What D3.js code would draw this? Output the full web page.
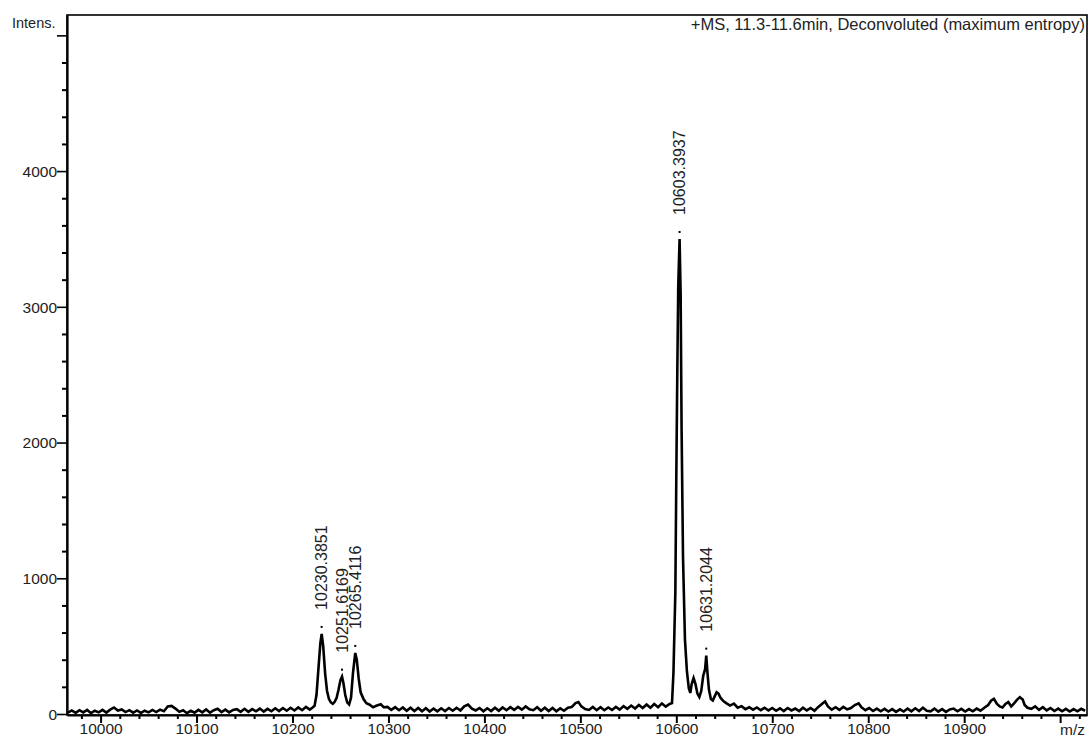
<!DOCTYPE html>
<html>
<head>
<meta charset="utf-8">
<script src="https://cdn.jsdelivr.net/npm/d3@7"></script>
<style>
  body { margin: 0; background: #fff; }
  svg { display: block; font-family: "Liberation Sans", Arial, sans-serif; }
</style>
</head>
<body>
<svg id="chart" width="1090" height="738"></svg>
<script>
// spectrum (m/z, intensity)
const mzValues = [
  9966, 9970, 9974, 9978, 9982, 9986, 9990, 9994, 9998, 10002, 10006, 10010, 10014, 10018, 10022, 10026,
  10030, 10034, 10038, 10042, 10046, 10050, 10054, 10058, 10062, 10066, 10070, 10074, 10078, 10082, 10086,
  10090, 10094, 10098, 10102, 10106, 10110, 10114, 10118, 10122, 10126, 10130, 10134, 10138, 10142, 10146,
  10150, 10154, 10158, 10162, 10166, 10170, 10174, 10178, 10182, 10186, 10190, 10194, 10198, 10202, 10206,
  10210, 10214, 10218, 10221, 10223, 10225, 10227, 10229, 10230.4, 10232, 10234, 10236, 10238, 10240, 10242,
  10244, 10246, 10248, 10250, 10251.6, 10253, 10255, 10257, 10259, 10261, 10263, 10265.4, 10267, 10269, 10271,
  10274, 10277, 10280, 10284, 10288, 10292, 10295, 10299, 10303, 10307, 10311, 10315, 10319, 10323, 10327,
  10331, 10335, 10339, 10343, 10347, 10351, 10355, 10359, 10363, 10367, 10371, 10375, 10379, 10383, 10387,
  10391, 10395, 10399, 10403, 10407, 10411, 10415, 10419, 10423, 10427, 10431, 10435, 10439, 10443, 10447,
  10451, 10455, 10459, 10463, 10467, 10471, 10475, 10479, 10483, 10487, 10491, 10495, 10498, 10501, 10505,
  10509, 10513, 10517, 10521, 10525, 10529, 10533, 10537, 10541, 10545, 10549, 10553, 10557, 10561, 10565,
  10569, 10573, 10577, 10581, 10585, 10589, 10593, 10595.5, 10597, 10599, 10600, 10601, 10602, 10603.4, 10604.5,
  10605.5, 10607, 10609, 10611, 10613, 10614.6, 10616, 10618, 10620, 10622, 10624, 10626, 10628, 10630, 10631.2,
  10632.5, 10634, 10636, 10638, 10640, 10642, 10644, 10646, 10649, 10652, 10656, 10660, 10664, 10668, 10672,
  10676, 10680, 10684, 10688, 10692, 10696, 10700, 10704, 10708, 10712, 10716, 10720, 10724, 10728, 10732,
  10736, 10740, 10744, 10748, 10752, 10755, 10758, 10762, 10766, 10770, 10774, 10778, 10782, 10786, 10790,
  10793, 10797, 10801, 10805, 10809, 10813, 10817, 10821, 10825, 10829, 10833, 10837, 10841, 10845, 10849,
  10853, 10857, 10861, 10865, 10869, 10873, 10877, 10881, 10885, 10889, 10893, 10897, 10901, 10905, 10909,
  10913, 10917, 10921, 10925, 10928, 10931, 10934, 10937, 10940, 10943, 10946, 10949, 10952, 10955, 10958,
  10961, 10963, 10966, 10970, 10974, 10978, 10982, 10986, 10990, 10994, 10998, 11002, 11006, 11010, 11014,
  11018, 11022, 11026
];
const intensValues = [
  10, 26, 8, 28, 12, 30, 6, 24, 12, 30, 10, 32, 48, 26, 34, 14,
  28, 10, 26, 8, 24, 12, 30, 14, 32, 20, 56, 60, 40, 16, 28,
  6, 24, 10, 30, 12, 34, 10, 28, 38, 14, 32, 12, 30, 36, 16,
  38, 16, 36, 20, 40, 18, 38, 20, 42, 22, 44, 24, 46, 26, 48,
  28, 52, 32, 48, 60, 140, 330, 520, 590, 500, 300, 170, 110, 85, 75,
  90, 120, 180, 250, 275, 230, 140, 85, 70, 120, 300, 450, 400, 260, 160,
  110, 80, 70, 50, 62, 72, 50, 52, 30, 50, 28, 48, 24, 46, 22,
  44, 20, 42, 18, 40, 20, 42, 22, 44, 24, 46, 26, 56, 70, 40,
  26, 44, 20, 42, 22, 46, 24, 48, 28, 50, 30, 52, 32, 56, 34,
  28, 50, 24, 46, 22, 44, 20, 42, 24, 46, 52, 80, 88, 56, 36,
  30, 52, 28, 50, 28, 48, 30, 52, 32, 58, 38, 62, 40, 66, 44,
  70, 46, 74, 50, 78, 54, 74, 80, 300, 900, 1750, 2500, 3150, 3500, 3100,
  2100, 1150, 550, 320, 190, 155, 220, 265, 220, 150, 125, 170, 280, 330, 430,
  300, 180, 110, 100, 130, 160, 150, 120, 95, 80, 62, 76, 46, 58, 36,
  50, 32, 48, 28, 46, 26, 44, 24, 42, 22, 44, 26, 40, 22, 46,
  26, 44, 24, 52, 76, 92, 56, 32, 50, 30, 52, 34, 44, 66, 78,
  50, 28, 44, 22, 40, 20, 38, 18, 36, 16, 34, 18, 40, 20, 42,
  22, 46, 24, 20, 40, 18, 36, 16, 34, 40, 20, 38, 18, 36, 20,
  40, 24, 46, 66, 98, 112, 76, 56, 48, 74, 88, 56, 78, 104, 124,
  106, 66, 46, 38, 56, 30, 50, 26, 44, 22, 40, 20, 38, 18, 36,
  20, 38, 24
];

// annotated peaks
const peakLabels = ["10230.3851", "10251.6169", "10265.4116", "10603.3937", "10631.2044"];
const peakMz = [10230.3851, 10251.6169, 10265.4116, 10603.3937, 10631.2044];
const peakIntens = [590, 275, 450, 3500, 430];

const xMajorTicks = [10000, 10100, 10200, 10300, 10400, 10500, 10600, 10700, 10800, 10900, 11000];
const xTickLabels = ["10000", "10100", "10200", "10300", "10400", "10500", "10600", "10700", "10800", "10900", ""];
const yMajorTicks = [0, 1000, 2000, 3000, 4000];

const titleText = "+MS, 11.3-11.6min, Deconvoluted (maximum entropy)";

const plotLeft = 67, plotRight = 1087, plotTop = 15, plotBottom = 715;
const tickFont = 15.5;
const peakFont = 16;

const svg = d3.select("#chart");

const x = d3.scaleLinear().domain([9965, 11028]).range([plotLeft, plotRight]);
const y = d3.scaleLinear().domain([0, 5150]).range([plotBottom - 1, plotTop]);

// frame
svg.append("rect")
  .attr("x", plotLeft).attr("y", plotTop)
  .attr("width", plotRight - plotLeft).attr("height", plotBottom - plotTop)
  .attr("fill", "none").attr("stroke", "#000").attr("stroke-width", 1.6);

// x minor ticks (every 20)
const xMinor = d3.range(9980, 11021, 20).filter((v) => v % 100 !== 0);
svg.append("g")
  .attr("transform", `translate(0,${plotBottom})`)
  .call(d3.axisBottom(x).tickValues(xMinor).tickSize(4).tickSizeOuter(0).tickFormat(""))
  .call((g) => g.select(".domain").remove())
  .call((g) => g.selectAll("line").attr("stroke-width", 2));

// x major ticks and labels
svg.append("g")
  .attr("transform", `translate(0,${plotBottom})`)
  .call(d3.axisBottom(x).tickValues(xMajorTicks).tickSize(8).tickSizeOuter(0)
    .tickFormat((d, i) => xTickLabels[i]))
  .call((g) => g.select(".domain").attr("stroke-width", 2.2))
  .call((g) => g.selectAll("line").attr("stroke-width", 2))
  .call((g) => g.selectAll("text")
    .attr("font-size", tickFont).attr("font-family", "Liberation Sans, Arial, sans-serif")
    .attr("fill", "#222").attr("dy", "0.7em").attr("y", 8));

// y minor ticks (every 200)
const yMinor = d3.range(200, 5100, 200).filter((v) => v % 1000 !== 0);
svg.append("g")
  .attr("transform", `translate(${plotLeft},0)`)
  .call(d3.axisLeft(y).tickValues(yMinor).tickSize(5).tickSizeOuter(0).tickFormat(""))
  .call((g) => g.select(".domain").remove())
  .call((g) => g.selectAll("line").attr("stroke-width", 2));

// y major ticks and labels
svg.append("g")
  .attr("transform", `translate(${plotLeft},0)`)
  .call(d3.axisLeft(y).tickValues(yMajorTicks.concat([5000])).tickSize(10).tickSizeOuter(0)
    .tickFormat((d) => (d === 5000 ? "" : d)))
  .call((g) => g.select(".domain").attr("stroke-width", 2.2))
  .call((g) => g.selectAll("line").attr("stroke-width", 1.6))
  .call((g) => g.selectAll("text")
    .attr("font-size", tickFont).attr("font-family", "Liberation Sans, Arial, sans-serif")
    .attr("fill", "#222").attr("x", -10).attr("dy", "0.35em"));

// spectrum trace
const points = mzValues.map((m, i) => ({ mz: m, v: intensValues[i] }));
const line = d3.line().x((d) => x(d.mz)).y((d) => y(d.v));
svg.append("path")
  .datum(points)
  .attr("d", line)
  .attr("fill", "none")
  .attr("stroke", "#000")
  .attr("stroke-width", 2.6)
  .attr("stroke-linejoin", "miter");

// peak markers and rotated labels
peakLabels.forEach((lab, i) => {
  const px = x(peakMz[i]);
  const py = y(peakIntens[i]);
  svg.append("rect")
    .attr("x", px - 1).attr("y", py - 8)
    .attr("width", 2).attr("height", 2)
    .attr("fill", "#000");
  svg.append("text")
    .attr("transform", `translate(${px + 5.5},${py - 24}) rotate(-90)`)
    .attr("font-size", peakFont)
    .attr("fill", "#222")
    .text(lab);
});

// corner texts
svg.append("text")
  .attr("x", 12).attr("y", 28)
  .attr("font-size", 14.5).attr("fill", "#222")
  .text("Intens.");

svg.append("text")
  .attr("x", plotRight - 2).attr("y", 30)
  .attr("text-anchor", "end")
  .attr("font-size", 16.5).attr("fill", "#222")
  .text(titleText);

svg.append("text")
  .attr("x", plotRight - 2).attr("y", 735)
  .attr("text-anchor", "end")
  .attr("font-size", tickFont).attr("fill", "#222")
  .text("m/z");
</script>
</body>
</html>
